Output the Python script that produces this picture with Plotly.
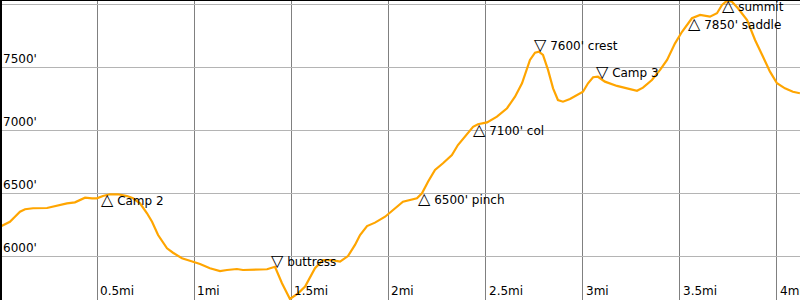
import plotly.graph_objects as go

# Elevation profile (miles, feet)
dist_mi = [0.000, 0.051, 0.077, 0.103, 0.129, 0.170, 0.242, 0.294, 0.345, 0.386,
           0.412, 0.438, 0.474, 0.499, 0.530, 0.566, 0.608, 0.654, 0.685, 0.721,
           0.757, 0.783, 0.814, 0.860, 0.891, 0.937, 0.994, 1.030, 1.081, 1.133,
           1.169, 1.220, 1.251, 1.339, 1.375, 1.416, 1.452, 1.493, 1.535, 1.571,
           1.622, 1.663, 1.710, 1.751, 1.792, 1.828, 1.854, 1.890, 1.931, 1.983,
           2.019, 2.075, 2.147, 2.173, 2.204, 2.240, 2.281, 2.327, 2.358, 2.394,
           2.436, 2.461, 2.508, 2.559, 2.611, 2.652, 2.688, 2.729, 2.755, 2.775,
           2.796, 2.822, 2.848, 2.873, 2.899, 2.935, 2.976, 3.002, 3.028, 3.054,
           3.079, 3.115, 3.177, 3.229, 3.280, 3.311, 3.357, 3.399, 3.435, 3.476,
           3.512, 3.563, 3.605, 3.656, 3.692, 3.718, 3.744, 3.769, 3.800, 3.847,
           3.888, 3.929, 3.965, 4.001, 4.042, 4.083, 4.119]
elev_ft = [6235, 6274, 6314, 6354, 6373, 6381, 6383, 6401, 6420, 6428,
           6447, 6465, 6460, 6460, 6478, 6492, 6492, 6478, 6460, 6420,
           6341, 6274, 6169, 6063, 6028, 5984, 5957, 5939, 5905, 5883,
           5891, 5899, 5891, 5891, 5897, 5917, 5786, 5661, 5706, 5759,
           5905, 5970, 5970, 5957, 6002, 6090, 6169, 6240, 6267, 6314,
           6362, 6433, 6460, 6500, 6592, 6685, 6738, 6804, 6883, 6949,
           7028, 7048, 7063, 7108, 7175, 7267, 7373, 7558, 7616, 7624,
           7598, 7479, 7333, 7240, 7227, 7248, 7280, 7306, 7373, 7421,
           7425, 7386, 7352, 7333, 7314, 7338, 7399, 7479, 7558, 7690,
           7782, 7889, 7915, 7902, 7929, 7994, 8029, 8021, 7968, 7875,
           7717, 7584, 7465, 7373, 7333, 7306, 7294]

# Waypoints
wp_names = ["Camp 2", "buttress", "6500' pinch", "7100' col", "7600' crest",
            "Camp 3", "7850' saddle", "summit"]
wp_mi = [0.548, 1.419, 2.176, 2.459, 2.778, 3.097, 3.571, 3.744]
wp_ft = [6493, 5917, 6500, 7042, 7629, 7417, 7884, 8030]
wp_dir = ["up", "down", "up", "up", "down", "down", "up", "up"]

# Tick labels
x_ticks = [0.5, 1.0, 1.5, 2.0, 2.5, 3.0, 3.5, 4.0]
x_tick_text = ["0.5mi", "1mi", "1.5mi", "2mi", "2.5mi", "3mi", "3.5mi", "4mi"]
y_ticks = [6000, 6500, 7000, 7500]
y_tick_text = ["6000'", "6500'", "7000'", "7500'"]

FONT = "DejaVu Sans"
TRI = "<span style='font-size:16px'>{}</span> {}"

fig = go.Figure()
fig.add_trace(go.Scatter(x=dist_mi, y=elev_ft, mode="lines",
                         line=dict(color="#FFA500", width=2.2),
                         hoverinfo="skip", showlegend=False))

annotations = []
for xv, t in zip(x_ticks, x_tick_text):
    annotations.append(dict(x=xv, y=0, xref="x", yref="paper", text=t,
                            showarrow=False, xanchor="left", yanchor="bottom",
                            xshift=1, yshift=0,
                            font=dict(family=FONT, size=12, color="#000")))
for yv, t in zip(y_ticks, y_tick_text):
    annotations.append(dict(x=0, y=yv, xref="paper", yref="y", text=t,
                            showarrow=False, xanchor="left", yanchor="bottom",
                            xshift=1, yshift=-1,
                            font=dict(family=FONT, size=12, color="#000")))
for name, xv, yv, d in zip(wp_names, wp_mi, wp_ft, wp_dir):
    if d == "up":
        annotations.append(dict(x=xv, y=yv, text=TRI.format("\u25B3", name),
                                showarrow=False, xanchor="left", yanchor="top",
                                xshift=-7, yshift=6.5,
                                font=dict(family=FONT, size=12, color="#000")))
    else:
        annotations.append(dict(x=xv, y=yv, text=TRI.format("\u25BD", name),
                                showarrow=False, xanchor="left", yanchor="bottom",
                                xshift=-7, yshift=-5,
                                font=dict(family=FONT, size=12, color="#000")))

fig.update_layout(
    width=800, height=300,
    margin=dict(l=0, r=0, t=0, b=0),
    paper_bgcolor="white", plot_bgcolor="white",
    font=dict(family=FONT, size=12, color="#000"),
    xaxis=dict(range=[0, 4.1195], dtick=0.5, tick0=0, showgrid=True,
               gridcolor="#808080", gridwidth=1, showticklabels=False,
               zeroline=False, showline=False, ticks=""),
    yaxis=dict(range=[5653, 8034], dtick=500, tick0=0, showgrid=True,
               gridcolor="#b4b4b4", gridwidth=1, showticklabels=False,
               zeroline=False, showline=False, ticks=""),
    annotations=annotations,
    shapes=[
        dict(type="line", xref="paper", yref="paper", x0=0, x1=1, y0=1, y1=1,
             line=dict(color="#000", width=2)),
        dict(type="line", xref="paper", yref="paper", x0=0, x1=0, y0=0, y1=1,
             line=dict(color="#000", width=4)),
    ],
)

fig.write_html("out.html")
